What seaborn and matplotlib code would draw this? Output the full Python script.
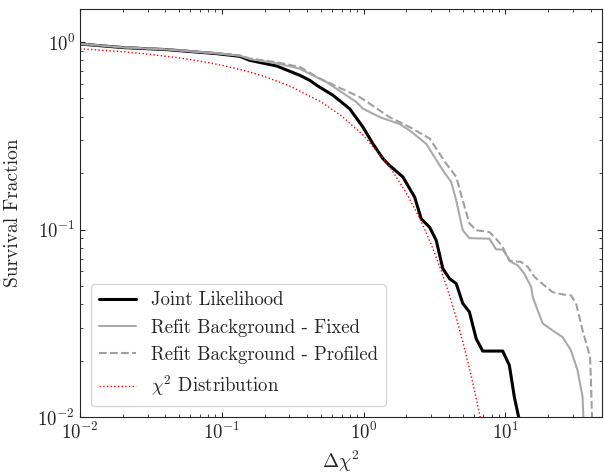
import numpy as np
import pandas as pd
import matplotlib
matplotlib.use("Agg")
import matplotlib.pyplot as plt
import seaborn as sns

# values (delta chi^2 vs survival fraction)
joint_x = [0.01, 0.0202, 0.0408, 0.0918, 0.134, 0.157, 0.244, 0.354, 0.417, 0.467, 0.608,
           0.797, 0.989, 1.163, 1.367, 1.52, 1.89, 2.29, 2.55, 2.92, 3.25, 3.62, 4.03,
           4.50, 5.00, 5.57, 6.22, 6.92, 9.57, 10.66, 11.56, 12.4, 12.8]
joint_y = [0.976, 0.934, 0.911, 0.867, 0.839, 0.799, 0.745, 0.665, 0.625, 0.588, 0.520,
           0.441, 0.352, 0.287, 0.239, 0.220, 0.191, 0.149, 0.114, 0.103, 0.0877, 0.0619, 0.0548,
           0.0515, 0.0404, 0.0364, 0.0262, 0.0225, 0.0225, 0.0189, 0.0128, 0.0100, 0.0092]

fixed_x = [0.01, 0.0202, 0.0408, 0.0918, 0.134, 0.157, 0.244, 0.354, 0.546, 0.755, 0.889,
           0.989, 1.30, 1.80, 2.11, 2.76, 3.62, 4.15, 4.50, 5.00, 5.57, 7.71, 8.59, 9.57,
           10.96, 12.2, 13.6, 15.2, 15.6, 18.3, 21.5, 25.3, 29.0, 32.3, 35.0, 35.5, 35.7]
fixed_y = [0.978, 0.936, 0.913, 0.870, 0.845, 0.812, 0.770, 0.721, 0.612, 0.520, 0.479,
           0.441, 0.398, 0.365, 0.338, 0.287, 0.207, 0.179, 0.143, 0.0992, 0.0900, 0.0894, 0.0785, 0.0782,
           0.0672, 0.0645, 0.0582, 0.0494, 0.0435, 0.0316, 0.0290, 0.0267, 0.0227, 0.0177, 0.0128, 0.0100, 0.0092]

profiled_x = [0.01, 0.0202, 0.0408, 0.0918, 0.134, 0.157, 0.244, 0.354, 0.489, 0.678, 0.937,
              1.10, 1.52, 2.11, 2.92, 3.82, 4.50, 5.00, 5.57, 6.22, 7.71, 8.59, 9.57, 10.66,
              12.9, 14.4, 16.0, 19.4, 21.5, 25.3, 29.0, 31.5, 35.0, 39.5, 40.1, 40.8, 41.0]
profiled_y = [0.978, 0.937, 0.914, 0.872, 0.848, 0.818, 0.780, 0.736, 0.640, 0.570, 0.509,
              0.470, 0.398, 0.352, 0.306, 0.225, 0.191, 0.143, 0.108, 0.0992, 0.0970, 0.0894, 0.0806, 0.0682,
              0.0672, 0.0632, 0.0560, 0.0494, 0.0464, 0.0451, 0.0446, 0.0404, 0.0290, 0.0210, 0.0158, 0.0100, 0.0092]

chi2_x = [0.01, 0.02, 0.03, 0.05, 0.07, 0.1, 0.15, 0.2, 0.3, 0.5, 0.7, 1.0, 1.5, 2.0,
          2.5, 3.0, 3.5, 4.0, 4.5, 5.0, 5.5, 6.0, 6.5, 7.0]
chi2_y = [0.920, 0.888, 0.862, 0.823, 0.791, 0.752, 0.699, 0.655, 0.584, 0.480, 0.403, 0.317,
          0.221, 0.157, 0.114, 0.0833, 0.0614, 0.0455, 0.0339, 0.0253, 0.0190, 0.0143, 0.0108, 0.0082]

sns.set_style("ticks")
plt.rcParams['font.family'] = 'serif'
plt.rcParams['font.serif'] = ['cmr10', 'DejaVu Serif']
plt.rcParams['mathtext.fontset'] = 'cm'
plt.rcParams['axes.formatter.use_mathtext'] = True
plt.rcParams['axes.unicode_minus'] = False
plt.rcParams['font.size'] = 13
plt.rcParams['xtick.direction'] = 'in'
plt.rcParams['ytick.direction'] = 'in'
plt.rcParams['xtick.top'] = True
plt.rcParams['ytick.right'] = True

fig, ax = plt.subplots(figsize=(6.04, 4.74), dpi=100)
fig.subplots_adjust(left=0.1325, right=0.9967, top=0.981, bottom=0.12)

df_joint = pd.DataFrame({'x': joint_x, 'y': joint_y})
df_fixed = pd.DataFrame({'x': fixed_x, 'y': fixed_y})
df_prof = pd.DataFrame({'x': profiled_x, 'y': profiled_y})
df_chi2 = pd.DataFrame({'x': chi2_x, 'y': chi2_y})

sns.lineplot(data=df_joint, x='x', y='y', ax=ax, sort=False, estimator=None,
             color='black', linewidth=2.2, label='Joint Likelihood')
sns.lineplot(data=df_fixed, x='x', y='y', ax=ax, sort=False, estimator=None,
             color='#aaaaaa', linewidth=1.5, label='Refit Background - Fixed')
sns.lineplot(data=df_prof, x='x', y='y', ax=ax, sort=False, estimator=None,
             color='#a0a0a0', linewidth=1.5, linestyle='--', label='Refit Background - Profiled')
sns.lineplot(data=df_chi2, x='x', y='y', ax=ax, sort=False, estimator=None,
             color='red', linewidth=1.0, linestyle=':', label=r'$\chi^2$ Distribution')

ax.set_xscale('log')
ax.set_yscale('log')
ax.set_xlim(0.01, 48)
ax.set_ylim(0.01, 1.5)
ax.tick_params(which='both', top=True, right=True, direction='in', labelsize=13.5)
ax.set_xlabel(r'$\Delta\chi^2$', fontsize=14)
ax.set_ylabel('Survival Fraction', fontsize=14, labelpad=11)
ax.legend(loc='lower left', fontsize=13.5, borderaxespad=0.6)

plt.savefig('out.png', dpi=100)
